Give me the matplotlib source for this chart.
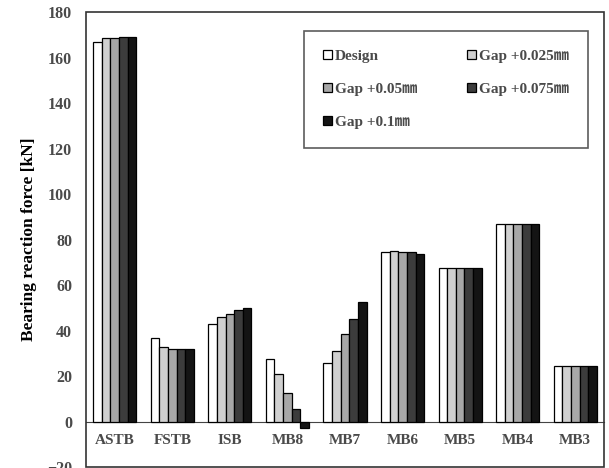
import numpy as np
import matplotlib
matplotlib.use("Agg")
from matplotlib import pyplot as plt
from matplotlib.patches import Rectangle

plt.rcParams['font.family'] = ['Liberation Serif', 'Noto Sans CJK JP']
plt.rcParams['font.weight'] = 'bold'

categories = ['ASTB', 'FSTB', 'ISB', 'MB8', 'MB7', 'MB6', 'MB5', 'MB4', 'MB3']
series_names = ['Design', 'Gap +0.025㎜', 'Gap +0.05㎜', 'Gap +0.075㎜', 'Gap +0.1㎜']

design = [167.0, 36.8, 43.1, 27.7, 25.9, 74.5, 67.6, 86.7, 24.6]
gap_025 = [168.7, 32.9, 45.9, 20.7, 30.9, 75.1, 67.6, 86.7, 24.6]
gap_050 = [168.7, 32.1, 47.1, 12.6, 38.4, 74.5, 67.6, 86.7, 24.6]
gap_075 = [169.3, 32.1, 48.9, 5.3, 45.3, 74.5, 67.6, 86.7, 24.6]
gap_100 = [169.3, 31.7, 50.0, -2.9, 52.4, 73.9, 67.6, 86.7, 24.6]

values = [design, gap_025, gap_050, gap_075, gap_100]
colors = ['#ffffff', '#d0d0d0', '#a8a8a8', '#3c3c3c', '#141414']

txt = '#4a4a4a'

fig = plt.figure(figsize=(6.09, 4.68), dpi=100)
ax = fig.add_axes([86/609, 1 - 467/468, 518/609, (467 - 12.3)/468])

x = np.arange(len(categories))
w = 0.15
handles = []
for k in range(5):
    b = ax.bar(x + (k - 2) * w, values[k], w, color=colors[k],
               edgecolor='black', linewidth=0.9, label=series_names[k], zorder=3)
    handles.append(b)

ax.set_xlim(-0.5, 8.5)
ax.set_ylim(-20, 180)
ax.set_yticks(np.arange(-20, 181, 20))
ax.tick_params(axis='y', length=0, pad=10, labelsize=11.5, labelcolor=txt)
ax.set_xticks(x)
ax.set_xticklabels(categories)
ax.tick_params(axis='x', length=0, pad=9, labelsize=11, labelcolor=txt)

# category axis crosses at zero
ax.spines['bottom'].set_position(('data', 0))
ax.spines['bottom'].set_color('#444444')
for s in ['left', 'right', 'top']:
    ax.spines[s].set_visible(False)
ax.add_patch(Rectangle((0, 0), 1, 1, transform=ax.transAxes, fill=False,
                       edgecolor='#333333', linewidth=1.2, clip_on=False, zorder=5))

ax.set_ylabel('Bearing reaction force [kN]', fontsize=12.5, fontweight='bold',
              color='black', labelpad=7)

order = [0, 2, 4, 1, 3]
leg = ax.legend([handles[i] for i in order], [series_names[i] for i in order],
                ncol=2, loc='upper right', bbox_to_anchor=(0.969, 0.959),
                borderaxespad=0, fancybox=False, edgecolor='#333333',
                fontsize=11, handlelength=0.55, handleheight=0.55,
                handletextpad=0.2, labelspacing=1.3, columnspacing=3.3,
                borderpad=1.25, labelcolor=txt)
leg.get_frame().set_linewidth(1.2)

fig.savefig('out.png', dpi=100)
